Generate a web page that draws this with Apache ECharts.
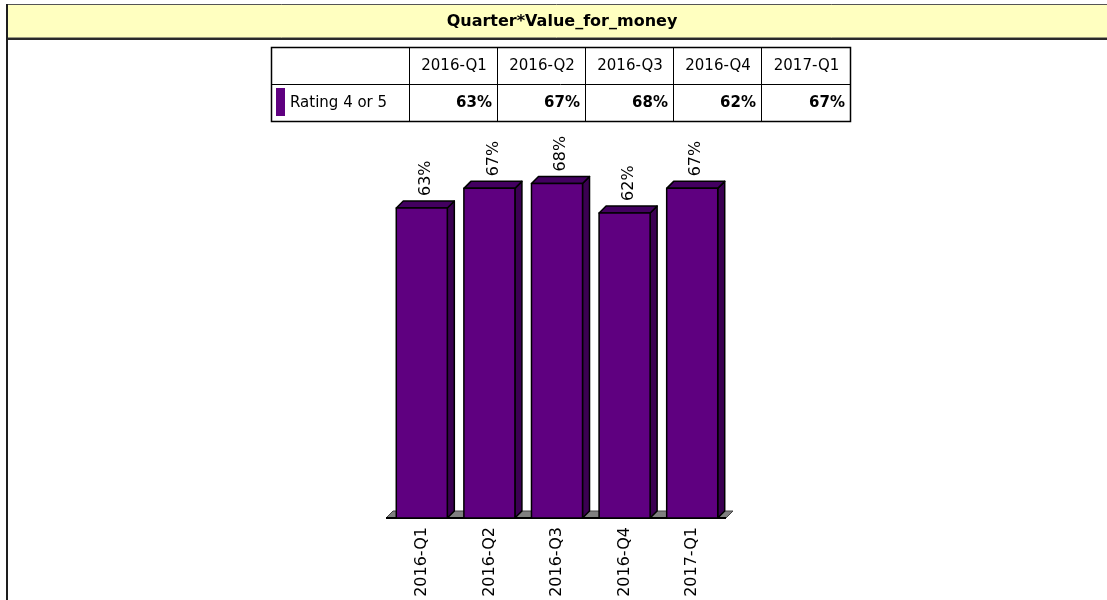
<!DOCTYPE html>
<html>
<head>
<meta charset="utf-8">
<title>Quarter*Value_for_money</title>
<script src="https://cdn.jsdelivr.net/npm/echarts@6/dist/echarts.min.js"></script>
<style>
	html, body { margin: 0; padding: 0; background: #fff; }
	#chart { width: 1107px; height: 600px; }
</style>
</head>
<body>
<div id="chart"></div>
<script>
var chartTitle = 'Quarter*Value_for_money';
var quarters = ['2016-Q1', '2016-Q2', '2016-Q3', '2016-Q4', '2017-Q1'];
var seriesName = 'Rating 4 or 5';
var ratingPct = [63, 67, 68, 62, 67];

var FRONT = '#5f0080';   //bar front face
var TOP = '#430060';     //bar top face
var SIDE = '#3b0052';    //bar side face
var DEPTH = 7;           //3d offset
var FONT = '"DejaVu Sans", sans-serif';

/*table built from the data arrays*/
function buildTable() {
	var cols = [271, 409, 497, 585, 673, 761, 850];
	var rows = [47, 84, 121];
	var els = [];
	els.push({
		type: 'rect',
		shape: { x: cols[0] + 0.5, y: rows[0] + 0.5, width: cols[6] - cols[0], height: rows[2] - rows[0] },
		style: { fill: '#fff', stroke: '#000', lineWidth: 1.5 }
	});
	for (var i = 1; i < cols.length - 1; i++) {
		els.push({
			type: 'line',
			shape: { x1: cols[i] + 0.5, y1: rows[0], x2: cols[i] + 0.5, y2: rows[2] },
			style: { stroke: '#000', lineWidth: 1 }
		});
	}
	els.push({
		type: 'line',
		shape: { x1: cols[0], y1: rows[1] + 0.5, x2: cols[6], y2: rows[1] + 0.5 },
		style: { stroke: '#000', lineWidth: 1 }
	});
	for (var j = 0; j < quarters.length; j++) {
		els.push({
			type: 'text',
			style: {
				text: quarters[j], x: (cols[j + 1] + cols[j + 2]) / 2 + 1, y: (rows[0] + rows[1]) / 2 + 1,
				font: '15px ' + FONT, fill: '#000', align: 'center', verticalAlign: 'middle'
			}
		});
		els.push({
			type: 'text',
			style: {
				text: ratingPct[j] + '%', x: cols[j + 2] - 5, y: (rows[1] + rows[2]) / 2 + 1,
				font: 'bold 15px ' + FONT, fill: '#000', align: 'right', verticalAlign: 'middle'
			}
		});
	}
	//legend swatch + series name
	els.push({
		type: 'rect',
		shape: { x: 276, y: 88, width: 9, height: 28 },
		style: { fill: FRONT }
	});
	els.push({
		type: 'text',
		style: {
			text: seriesName, x: 290, y: (rows[1] + rows[2]) / 2 + 1,
			font: '15px ' + FONT, fill: '#000', align: 'left', verticalAlign: 'middle'
		}
	});
	return els;
}

/*title bar and frame*/
var frame = [
	{ type: 'rect', shape: { x: 6, y: 4, width: 1110, height: 34 }, style: { fill: '#ffffc0' } },
	{ type: 'line', shape: { x1: 6, y1: 4.5, x2: 1107, y2: 4.5 }, style: { stroke: '#555', lineWidth: 1 } },
	{ type: 'line', shape: { x1: 6, y1: 37.5, x2: 1107, y2: 37.5 }, style: { stroke: '#9a9a80', lineWidth: 1 } },
	{ type: 'line', shape: { x1: 6, y1: 39, x2: 1107, y2: 39 }, style: { stroke: '#2a2a2a', lineWidth: 2 } },
	{ type: 'line', shape: { x1: 7, y1: 4, x2: 7, y2: 600 }, style: { stroke: '#1e1e1e', lineWidth: 2 } },
	{
		type: 'text',
		style: {
			text: chartTitle, x: 562, y: 22, font: 'bold 16px ' + FONT,
			fill: '#000', align: 'center', verticalAlign: 'middle'
		}
	}
];

/*3d bar: front, top, side and rotated value label*/
function renderBar(params, api) {
	var base = api.coord([api.value(0), 0]);
	var top = api.coord([api.value(0), api.value(1)]);
	var w = api.size([1, 0])[0] * 0.755;
	var l = top[0] - w / 2, r = top[0] + w / 2;
	var ty = top[1], by = base[1], d = DEPTH;
	var lineStyle = { stroke: '#000', lineWidth: 1.5, lineJoin: 'round' };
	return {
		type: 'group',
		children: [
			{
				type: 'polygon',
				shape: { points: [[r, ty], [r + d, ty - d], [r + d, by - d], [r, by]] },
				style: Object.assign({ fill: SIDE }, lineStyle)
			},
			{
				type: 'polygon',
				shape: { points: [[l, ty], [l + d, ty - d], [r + d, ty - d], [r, ty]] },
				style: Object.assign({ fill: TOP }, lineStyle)
			},
			{
				type: 'rect',
				shape: { x: l, y: ty, width: w, height: by - ty },
				style: Object.assign({ fill: FRONT }, lineStyle)
			},
			{
				type: 'text',
				x: top[0] + 4,
				y: ty - d - 5,
				rotation: Math.PI / 2,
				style: {
					text: api.value(1) + '%', font: '16px ' + FONT, fill: '#000',
					align: 'left', verticalAlign: 'middle'
				}
			}
		]
	};
}

/*grey floor under the bars*/
function renderFloor(params, api) {
	var cs = params.coordSys;
	var by = cs.y + cs.height, d = DEPTH;
	var x0 = cs.x - 2, x1 = cs.x + cs.width;
	return {
		type: 'group',
		children: [
			{
				type: 'polygon',
				shape: { points: [[x0, by], [x0 + d, by - d], [x1 + d, by - d], [x1, by]] },
				style: { fill: '#808080', stroke: '#444', lineWidth: 1 }
			},
			{
				type: 'line',
				shape: { x1: x0, y1: by, x2: x1, y2: by },
				style: { stroke: '#000', lineWidth: 2 }
			}
		]
	};
}

var barData = [];
for (var k = 0; k < quarters.length; k++) {
	barData.push([k, ratingPct[k]]);
}

var chart = echarts.init(document.getElementById('chart'));
var option = {
	backgroundColor: '#fff',
	animation: false,
	grid: { left: 388, top: 26, width: 338, height: 492 },
	xAxis: {
		type: 'category',
		data: quarters,
		axisLine: { show: false },
		axisTick: { show: false },
		axisLabel: {
			rotate: 90,
			margin: 9,
			fontFamily: 'DejaVu Sans',
			fontSize: 16,
			color: '#000'
		},
		splitLine: { show: false }
	},
	yAxis: {
		type: 'value',
		min: 0,
		max: 100,
		show: false
	},
	graphic: frame.concat(buildTable()),
	series: [
		{
			type: 'custom',
			name: 'floor',
			z: 1,
			data: [[0, 0]],
			renderItem: renderFloor,
			silent: true
		},
		{
			type: 'custom',
			name: seriesName,
			z: 2,
			data: barData,
			encode: { x: 0, y: 1 },
			renderItem: renderBar
		}
	]
};
chart.setOption(option);
</script>
</body>
</html>
